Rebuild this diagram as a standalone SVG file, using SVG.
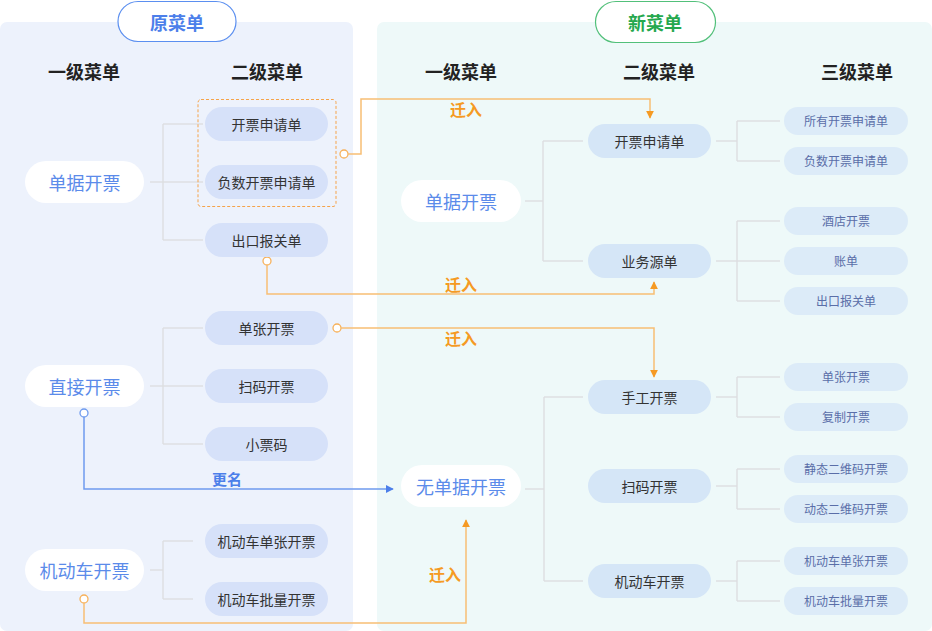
<svg xmlns="http://www.w3.org/2000/svg" width="932" height="631" viewBox="0 0 932 631">
<defs>
<style>
text{font-family:"Noto Sans CJK SC","Noto Sans",sans-serif;text-anchor:middle;dominant-baseline:central}
.hdr{font-size:18px;font-weight:bold;fill:#222}
.l1{fill:#fff}
.l1t{font-size:18px;fill:#5B8BEA}
.l2a{fill:#D6E1F9}
.l2b{fill:#D5E6F7}
.l2t{font-size:14px;fill:#333}
.l3{fill:#DCEBF8}
.l3t{font-size:12px;fill:#5A6EA8}
.tree{fill:none;stroke:#DEDFE2;stroke-width:1.5}
.or{fill:none;stroke:#F8BE74;stroke-width:1.5}
.bl{fill:none;stroke:#6F9BEE;stroke-width:1.5}
.olab{font-size:16px;font-weight:bold;fill:#F59A23}
.blab{font-size:15px;font-weight:bold;fill:#4C7FEA}
</style>
<marker id="ao" viewBox="0 0 10 10" refX="9" refY="5" markerWidth="8" markerHeight="8" markerUnits="userSpaceOnUse" orient="auto"><path d="M0,0 L10,5 L0,10 z" fill="#F59A23"/></marker>
<marker id="ab" viewBox="0 0 10 10" refX="9" refY="5" markerWidth="8" markerHeight="8" markerUnits="userSpaceOnUse" orient="auto"><path d="M0,0 L10,5 L0,10 z" fill="#4C7FEA"/></marker>
</defs>
<rect width="932" height="631" fill="#fff"/>
<rect x="0" y="22" width="353" height="609" rx="7" fill="#EDF2FC"/>
<rect x="377" y="22" width="555" height="609" rx="7" fill="#EEF9F9"/>

<g id="title-old"><rect x="118" y="1.5" width="118" height="40" rx="20" fill="#fff" stroke="#5B8FF0" stroke-width="1.2"/><text x="177" y="21.5" font-size="18" font-weight="bold" fill="#4C7FEA">原菜单</text></g>
<g id="title-new"><rect x="595.5" y="1.5" width="120" height="41" rx="20.5" fill="#fff" stroke="#52C07A" stroke-width="1.2"/><text x="655" y="21.5" font-size="18" font-weight="bold" fill="#25A84E">新菜单</text></g>

<g id="headers">
<text class="hdr" x="84" y="71">一级菜单</text>
<text class="hdr" x="267" y="71">二级菜单</text>
<text class="hdr" x="461" y="71">一级菜单</text>
<text class="hdr" x="659" y="71">二级菜单</text>
<text class="hdr" x="857" y="71">三级菜单</text>
</g>

<g id="connectors">
<path class="tree" d="M150,182H163M163,124V240M163,124H203M163,182H203M163,240H203"/>
<path class="tree" d="M150,386H163M163,328V444M163,328H203M163,386H203M163,444H203"/>
<path class="tree" d="M150,570H163M163,541V599M163,541H193M163,599H193"/>
<path class="tree" d="M525,201H543M543,141V261M543,141H583M543,261H583"/>
<path class="tree" d="M525,489H544M544,397V581M544,397H583M544,581H583"/>
<path class="tree" d="M716,141H737M737,121V161M737,121H780M737,161H780"/>
<path class="tree" d="M716,261H737M737,221V301M737,221H780M737,261H780M737,301H780"/>
<path class="tree" d="M716,397H737M737,377V417M737,377H780M737,417H780"/>
<path class="tree" d="M716,486H737M737,469V509M737,469H780M737,509H780"/>
<path class="tree" d="M716,581H737M737,561V601M737,561H780M737,601H780"/>

<rect x="198" y="99.5" width="138" height="107" rx="3" fill="none" stroke="#F5A34A" stroke-width="1" stroke-dasharray="3,2"/>
<circle cx="344" cy="154" r="4" fill="#fff" stroke="#F7B15A" stroke-width="1.3"/>
<path class="or" d="M348,154H361V99H650V118" marker-end="url(#ao)"/>
<text class="olab" x="466" y="109">迁入</text>

<circle cx="267" cy="261" r="4" fill="#fff" stroke="#F7B15A" stroke-width="1.3"/>
<path class="or" d="M267,265V294H654V282" marker-end="url(#ao)"/>
<text class="olab" x="461" y="284">迁入</text>

<circle cx="337" cy="328" r="4" fill="#fff" stroke="#F7B15A" stroke-width="1.3"/>
<path class="or" d="M341,328H654V377" marker-end="url(#ao)"/>
<text class="olab" x="461" y="338">迁入</text>

<circle cx="84" cy="413" r="4" fill="#fff" stroke="#6F9BEE" stroke-width="1.3"/>
<path class="bl" d="M84,417V489H393" marker-end="url(#ab)"/>
<text class="blab" x="227" y="478">更名</text>

<circle cx="84" cy="599" r="4" fill="#fff" stroke="#F7B15A" stroke-width="1.3"/>
<path class="or" d="M84,603V623H466V520" marker-end="url(#ao)"/>
<text class="olab" x="445" y="574">迁入</text>
</g>

<g id="old-l1-danju"><rect class="l1" x="25" y="161" width="119" height="42" rx="21"/><text class="l1t" x="84.5" y="181.5">单据开票</text></g>
<g id="old-l1-zhijie"><rect class="l1" x="25" y="365" width="119" height="42" rx="21"/><text class="l1t" x="84.5" y="385.5">直接开票</text></g>
<g id="old-l1-jidongche"><rect class="l1" x="25" y="549" width="119" height="42" rx="21"/><text class="l1t" x="84.5" y="569.5">机动车开票</text></g>

<g id="old-l2-1"><rect class="l2a" x="205" y="107" width="123" height="34" rx="17"/><text class="l2t" x="266.5" y="123.5">开票申请单</text></g>
<g id="old-l2-2"><rect class="l2a" x="205" y="165" width="123" height="34" rx="17"/><text class="l2t" x="266.5" y="181.5">负数开票申请单</text></g>
<g id="old-l2-3"><rect class="l2a" x="205" y="223" width="123" height="34" rx="17"/><text class="l2t" x="266.5" y="239.5">出口报关单</text></g>
<g id="old-l2-4"><rect class="l2a" x="205" y="311" width="123" height="34" rx="17"/><text class="l2t" x="266.5" y="327.5">单张开票</text></g>
<g id="old-l2-5"><rect class="l2a" x="205" y="369" width="123" height="34" rx="17"/><text class="l2t" x="266.5" y="385.5">扫码开票</text></g>
<g id="old-l2-6"><rect class="l2a" x="205" y="427" width="123" height="34" rx="17"/><text class="l2t" x="266.5" y="443.5">小票码</text></g>
<g id="old-l2-7"><rect class="l2a" x="205" y="524" width="123" height="34" rx="17"/><text class="l2t" x="266.5" y="540.5">机动车单张开票</text></g>
<g id="old-l2-8"><rect class="l2a" x="205" y="582" width="123" height="34" rx="17"/><text class="l2t" x="266.5" y="598.5">机动车批量开票</text></g>

<g id="new-l1-danju"><rect class="l1" x="401" y="180" width="120" height="42" rx="21"/><text class="l1t" x="461" y="200.5">单据开票</text></g>
<g id="new-l1-wudanju"><rect class="l1" x="401" y="465" width="120" height="42" rx="21"/><text class="l1t" x="461" y="485.5">无单据开票</text></g>

<g id="new-l2-1"><rect class="l2b" x="588" y="124" width="123" height="34" rx="17"/><text class="l2t" x="649.5" y="140.5">开票申请单</text></g>
<g id="new-l2-2"><rect class="l2b" x="588" y="244" width="123" height="34" rx="17"/><text class="l2t" x="649.5" y="260.5">业务源单</text></g>
<g id="new-l2-3"><rect class="l2b" x="588" y="380" width="123" height="34" rx="17"/><text class="l2t" x="649.5" y="396.5">手工开票</text></g>
<g id="new-l2-4"><rect class="l2b" x="588" y="469" width="123" height="34" rx="17"/><text class="l2t" x="649.5" y="485.5">扫码开票</text></g>
<g id="new-l2-5"><rect class="l2b" x="588" y="564" width="123" height="34" rx="17"/><text class="l2t" x="649.5" y="580.5">机动车开票</text></g>

<g id="new-l3-1"><rect class="l3" x="784" y="107" width="124" height="28" rx="14"/><text class="l3t" x="846" y="120.5">所有开票申请单</text></g>
<g id="new-l3-2"><rect class="l3" x="784" y="147" width="124" height="28" rx="14"/><text class="l3t" x="846" y="160.5">负数开票申请单</text></g>
<g id="new-l3-3"><rect class="l3" x="784" y="207" width="124" height="28" rx="14"/><text class="l3t" x="846" y="220.5">酒店开票</text></g>
<g id="new-l3-4"><rect class="l3" x="784" y="247" width="124" height="28" rx="14"/><text class="l3t" x="846" y="260.5">账单</text></g>
<g id="new-l3-5"><rect class="l3" x="784" y="287" width="124" height="28" rx="14"/><text class="l3t" x="846" y="300.5">出口报关单</text></g>
<g id="new-l3-6"><rect class="l3" x="784" y="363" width="124" height="28" rx="14"/><text class="l3t" x="846" y="376.5">单张开票</text></g>
<g id="new-l3-7"><rect class="l3" x="784" y="403" width="124" height="28" rx="14"/><text class="l3t" x="846" y="416.5">复制开票</text></g>
<g id="new-l3-8"><rect class="l3" x="784" y="455" width="124" height="28" rx="14"/><text class="l3t" x="846" y="468.5">静态二维码开票</text></g>
<g id="new-l3-9"><rect class="l3" x="784" y="495" width="124" height="28" rx="14"/><text class="l3t" x="846" y="508.5">动态二维码开票</text></g>
<g id="new-l3-10"><rect class="l3" x="784" y="547" width="124" height="28" rx="14"/><text class="l3t" x="846" y="560.5">机动车单张开票</text></g>
<g id="new-l3-11"><rect class="l3" x="784" y="587" width="124" height="28" rx="14"/><text class="l3t" x="846" y="600.5">机动车批量开票</text></g>
</svg>
